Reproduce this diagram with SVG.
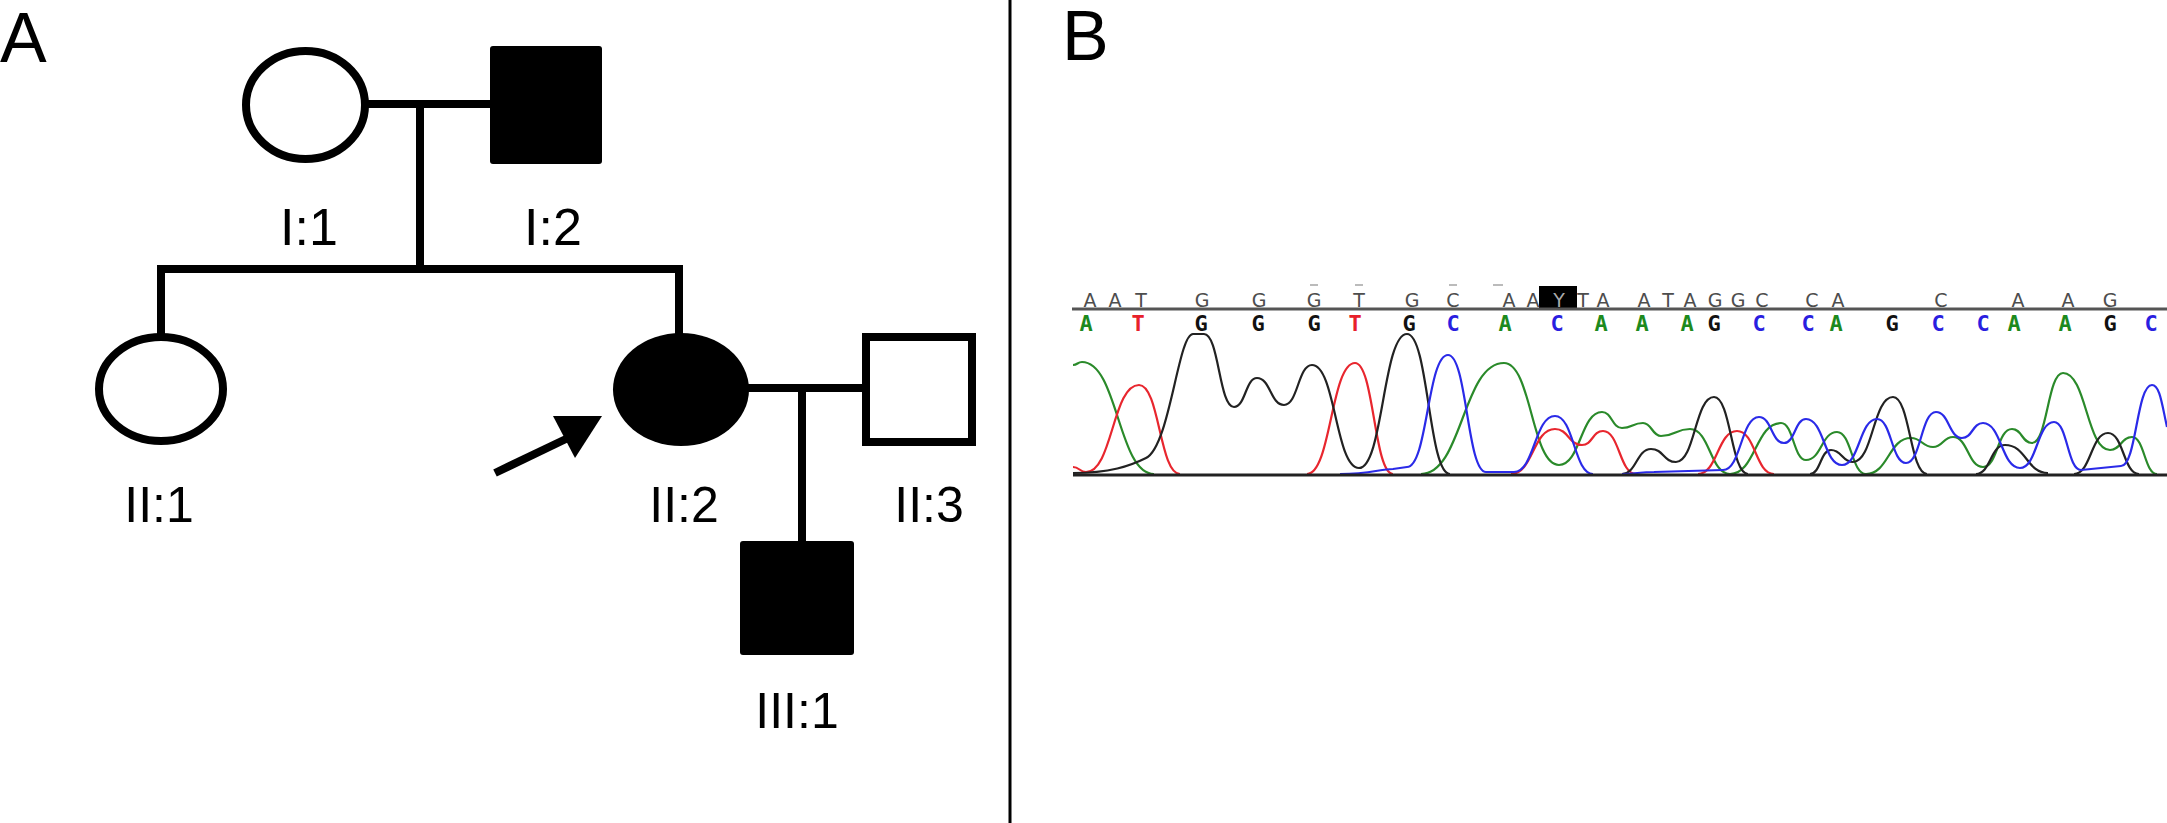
<svg xmlns="http://www.w3.org/2000/svg" width="2167" height="823" viewBox="0 0 2167 823">
<style>
.lbl{font-family:"Liberation Sans",Arial,sans-serif;fill:#000;text-anchor:middle}
.panel{font-family:"Liberation Sans",Arial,sans-serif;font-size:70px;fill:#000}
.ln{stroke:#000;stroke-width:8;fill:none;stroke-linecap:butt}
.open{fill:#fff;stroke:#000;stroke-width:8}
.aff{fill:#000}
.top{font-family:"DejaVu Sans",Verdana,sans-serif;font-size:19px;fill:#4d4d4d;text-anchor:middle}
.call{font-family:"DejaVu Sans Mono","Liberation Mono",monospace;font-weight:bold;font-size:22px;text-anchor:middle}
.ga{fill:#1d8a1d}.rt{fill:#e8202a}.kg{fill:#111}.bc{fill:#2a1ee0}
.tr{fill:none;stroke-width:2.2;stroke-linejoin:round}
</style>
<rect width="2167" height="823" fill="#fff"/>
<text class="panel" x="0" y="62">A</text>
<text class="panel" x="1062" y="60">B</text>
<line x1="1010" y1="0" x2="1010" y2="823" stroke="#000" stroke-width="3"/>

<g id="connectors">
<line class="ln" x1="365" y1="104" x2="492" y2="104"/>
<line class="ln" x1="420" y1="104" x2="420" y2="269" stroke-width="7"/>
<line class="ln" x1="157" y1="269" x2="683" y2="269"/>
<line class="ln" x1="161" y1="269" x2="161" y2="337" stroke-width="7"/>
<line class="ln" x1="679" y1="269" x2="679" y2="337" stroke-width="7"/>
<line class="ln" x1="745" y1="388" x2="866" y2="388"/>
<line class="ln" x1="802" y1="388" x2="802" y2="543" stroke-width="7"/>
</g>

<g id="I1"><ellipse class="open" cx="305.5" cy="105" rx="59.5" ry="54"/><text class="lbl" x="309" y="245" font-size="52">I:1</text></g>
<g id="I2"><rect class="aff" x="490" y="46" width="112" height="118" rx="3"/><text class="lbl" x="553" y="245" font-size="52">I:2</text></g>
<g id="II1"><ellipse class="open" cx="161" cy="389" rx="62" ry="52"/><text class="lbl" x="159" y="522" font-size="50">II:1</text></g>
<g id="II2"><ellipse class="aff" cx="681" cy="389.5" rx="68" ry="56.5"/><text class="lbl" x="684" y="522" font-size="50">II:2</text></g>
<g id="II3"><rect class="open" x="866" y="337" width="106" height="105"/><text class="lbl" x="929" y="522" font-size="50">II:3</text></g>
<g id="III1"><rect class="aff" x="740" y="541" width="114" height="114" rx="3"/><text class="lbl" x="797" y="728" font-size="50">III:1</text></g>
<g id="proband-arrow"><line x1="495" y1="473" x2="568" y2="438" stroke="#000" stroke-width="8"/><polygon points="553,416 602,416 575,458" fill="#000"/></g>

<g id="chromatogram">
<g stroke="#bbb" stroke-width="2"><line x1="1310" y1="285" x2="1318" y2="285"/><line x1="1355" y1="285" x2="1363" y2="285"/><line x1="1449" y1="285" x2="1457" y2="285"/><line x1="1493" y1="285" x2="1503" y2="285"/></g>
<rect x="1539" y="286" width="38" height="23" fill="#000"/>
<g class="top">
<text x="1090" y="307">A</text><text x="1115" y="307">A</text><text x="1141" y="307">T</text><text x="1202" y="307">G</text><text x="1259" y="307">G</text><text x="1314" y="307">G</text><text x="1359" y="307">T</text><text x="1412" y="307">G</text><text x="1453" y="307">C</text><text x="1509" y="307">A</text><text x="1533" y="307">A</text><text x="1559" y="307" fill="#aaa">Y</text><text x="1583" y="307">T</text><text x="1603" y="307">A</text><text x="1644" y="307">A</text><text x="1668" y="307">T</text><text x="1690" y="307">A</text><text x="1715" y="307">G</text><text x="1738" y="307">G</text><text x="1762" y="307">C</text><text x="1812" y="307">C</text><text x="1838" y="307">A</text><text x="1941" y="307">C</text><text x="2018" y="307">A</text><text x="2068" y="307">A</text><text x="2110" y="307">G</text>
</g>
<line x1="1072" y1="309" x2="2167" y2="309" stroke="#555" stroke-width="3"/>
<g class="call">
<text class="ga" x="1086" y="331">A</text><text class="rt" x="1138" y="331">T</text><text class="kg" x="1201" y="331">G</text><text class="kg" x="1258" y="331">G</text><text class="kg" x="1314" y="331">G</text><text class="rt" x="1355" y="331">T</text><text class="kg" x="1409" y="331">G</text><text class="bc" x="1453" y="331">C</text><text class="ga" x="1505" y="331">A</text><text class="bc" x="1557" y="331">C</text><text class="ga" x="1601" y="331">A</text><text class="ga" x="1642" y="331">A</text><text class="ga" x="1687" y="331">A</text><text class="kg" x="1714" y="331">G</text><text class="bc" x="1759" y="331">C</text><text class="bc" x="1808" y="331">C</text><text class="ga" x="1836" y="331">A</text><text class="kg" x="1892" y="331">G</text><text class="bc" x="1938" y="331">C</text><text class="bc" x="1983" y="331">C</text><text class="ga" x="2014" y="331">A</text><text class="ga" x="2065" y="331">A</text><text class="kg" x="2110" y="331">G</text><text class="bc" x="2151" y="331">C</text>
</g>
<path class="tr" stroke="#2a8a2a" d="M1073,365 C1077.5,365 1077.5,362 1082,362 C1118,362 1118,474 1154,474 M1421,474 C1462.5,474 1462.5,363 1504,363 C1531.5,363 1531.5,465 1559,465 C1580.5,465 1580.5,412 1602,412 C1612,412 1612,428 1622,428 C1632.5,428 1632.5,423 1643,423 C1652,423 1652,436 1661,436 C1675.5,436 1675.5,429 1690,429 C1710,429 1710,474 1730,474 C1755.5,474 1755.5,423 1781,423 C1793.5,423 1793.5,460 1806,460 C1821.5,460 1821.5,432 1837,432 C1851.5,432 1851.5,474 1866,474 C1888.5,474 1888.5,438 1911,438 C1922,438 1922,447 1933,447 C1943,447 1943,437 1953,437 C1968,437 1968,467 1983,467 C1997.5,467 1997.5,429 2012,429 C2022,429 2022,443 2032,443 C2047.5,443 2047.5,373 2063,373 C2086.5,373 2086.5,450 2110,450 C2121,450 2121,437 2132,437 C2144.5,437 2144.5,474 2157,474"/>
<path class="tr" stroke="#e8262e" d="M1073,467 C1079.5,467 1079.5,472 1086,472 C1112.5,472 1112.5,385 1139,385 C1159.5,385 1159.5,474 1180,474 M1307,474 C1331,474 1331,363 1355,363 C1374,363 1374,474 1393,474 M1511,474 C1533,474 1533,429 1555,429 C1568.5,429 1568.5,445 1582,445 C1592.5,445 1592.5,431 1603,431 C1619.5,431 1619.5,474 1636,474 M1698,474 C1717.5,474 1717.5,431 1737,431 C1755.5,431 1755.5,474 1774,474"/>
<path class="tr" stroke="#222" d="M1073,473 C1110,473 1130,466 1146,458 C1170,446 1178,334 1193,334 L1204,334 C1219,334 1219,407 1234,407 C1245.5,407 1245.5,378 1257,378 C1270.5,378 1270.5,405 1284,405 C1298,405 1298,365 1312,365 C1335.5,365 1335.5,468 1359,468 C1383,468 1383,334 1407,334 C1428.5,334 1428.5,474 1450,474 M1622,474 C1636.5,474 1636.5,449 1651,449 C1663.5,449 1663.5,462 1676,462 C1695,462 1695,397 1714,397 C1731,397 1731,474 1748,474 M1810,474 C1820.5,474 1820.5,450 1831,450 C1842,450 1842,462 1853,462 C1873,462 1873,397 1893,397 C1910,397 1910,474 1927,474 M1976,474 C1990.5,474 1990.5,445 2005,445 C2026.5,445 2026.5,473 2048,473 M2074,474 C2091,474 2091,433 2108,433 C2123.5,433 2123.5,474 2139,474"/>
<path class="tr" stroke="#2a2ae8" d="M1340,474 C1370,474 1380,469 1393,469 L1407,467 C1427.5,467 1427.5,355 1448,355 C1467,355 1467,472 1486,472 L1514,472 C1534.5,472 1534.5,416 1555,416 C1574,416 1574,474 1593,474 M1622,474 C1635,474 1640,472 1654,472 L1723,470 C1741,470 1741,417 1759,417 C1771.5,417 1771.5,443 1784,443 C1795,443 1795,419 1806,419 C1824,419 1824,465 1842,465 C1859.5,465 1859.5,419 1877,419 C1891.5,419 1891.5,463 1906,463 C1921,463 1921,412 1936,412 C1949,412 1949,438 1962,438 C1972.5,438 1972.5,423 1983,423 C2001.5,423 2001.5,468 2020,468 C2037,468 2037,422 2054,422 C2067.5,422 2067.5,470 2081,470 L2121,466 C2136.5,466 2136.5,385 2152,385 C2160,385 2162,405 2167,427"/>
<line x1="1073" y1="475" x2="2167" y2="475" stroke="#222" stroke-width="3"/>
</g>
</svg>
